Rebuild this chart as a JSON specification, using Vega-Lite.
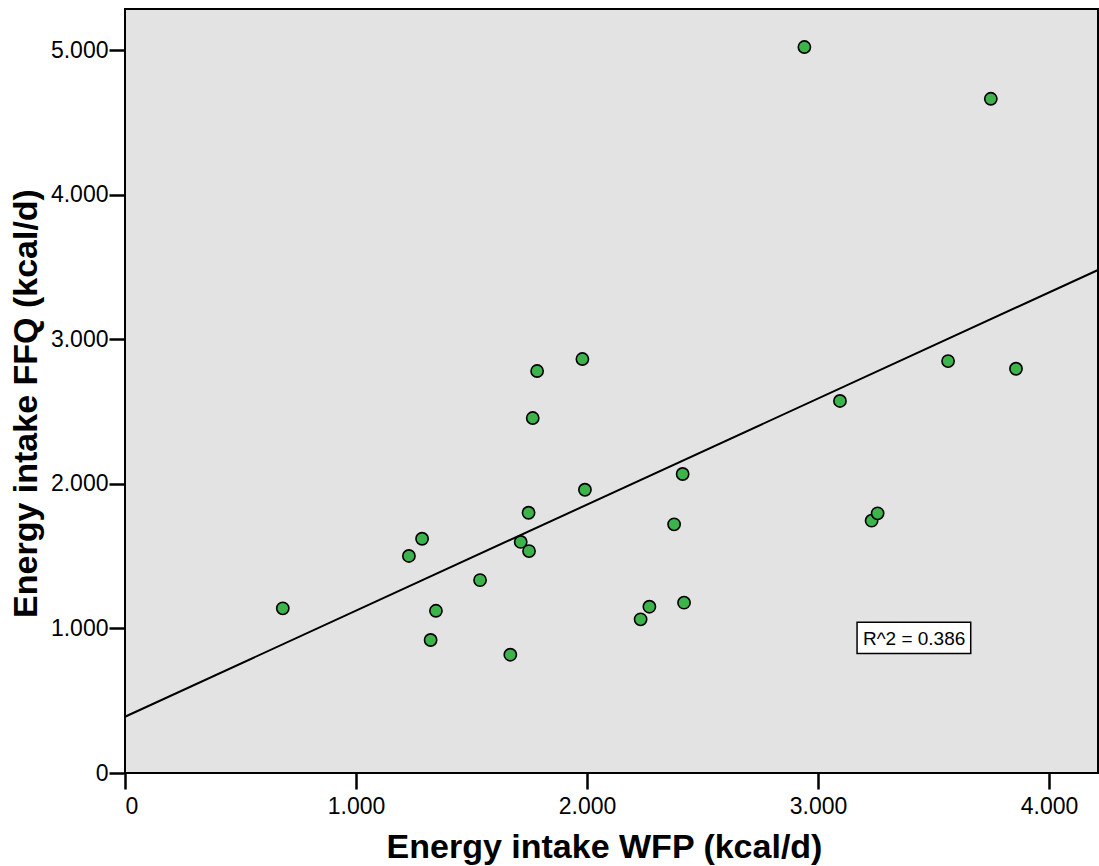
{
  "$schema": "https://vega.github.io/schema/vega-lite/v6.json",
  "width": 973,
  "height": 764,
  "autosize": {"type": "none"},
  "padding": {"left": 125, "top": 9, "right": 1, "bottom": 93},
  "background": "white",
  "config": {
    "font": "Liberation Sans",
    "view": {"fill": "#e3e3e3", "stroke": "black", "strokeWidth": 2},
    "axis": {
      "domain": false,
      "grid": false,
      "tickColor": "black",
      "tickWidth": 2.5,
      "tickSize": 16,
      "labelFont": "Liberation Sans",
      "labelFontSize": 23,
      "labelColor": "black",
      "titleFont": "Liberation Sans",
      "titleFontSize": 34,
      "titleFontWeight": "bold",
      "titleColor": "black"
    }
  },
  "layer": [
    {
      "data": {"values": [
        {"wfp": 683, "ffq": 1139},
        {"wfp": 1229, "ffq": 1501},
        {"wfp": 1286, "ffq": 1620},
        {"wfp": 1323, "ffq": 920},
        {"wfp": 1346, "ffq": 1122},
        {"wfp": 1537, "ffq": 1334},
        {"wfp": 1668, "ffq": 818},
        {"wfp": 1713, "ffq": 1598},
        {"wfp": 1747, "ffq": 1800},
        {"wfp": 1749, "ffq": 1535},
        {"wfp": 1765, "ffq": 2455},
        {"wfp": 1784, "ffq": 2780},
        {"wfp": 1980, "ffq": 2863},
        {"wfp": 1991, "ffq": 1959},
        {"wfp": 2232, "ffq": 1063},
        {"wfp": 2270, "ffq": 1150},
        {"wfp": 2377, "ffq": 1720},
        {"wfp": 2414, "ffq": 2068},
        {"wfp": 2420, "ffq": 1178},
        {"wfp": 2941, "ffq": 5021},
        {"wfp": 3095, "ffq": 2573},
        {"wfp": 3232, "ffq": 1745},
        {"wfp": 3258, "ffq": 1796},
        {"wfp": 3563, "ffq": 2849},
        {"wfp": 3748, "ffq": 4663},
        {"wfp": 3857, "ffq": 2796}
      ]},
      "mark": {"type": "point", "shape": "circle", "filled": true, "fill": "#3cb44b", "stroke": "black", "strokeWidth": 1.6, "size": 150, "opacity": 1},
      "encoding": {
        "x": {
          "field": "wfp", "type": "quantitative",
          "scale": {"domain": [0, 4212], "nice": false, "zero": true},
          "axis": {
            "values": [0, 1000, 2000, 3000, 4000],
            "labelExpr": "replace(format(datum.value, ','), ',', '.')",
            "labelPadding": 6,
            "title": "Energy intake WFP (kcal/d)",
            "titleX": 479,
            "titleY": 84,
            "titleBaseline": "alphabetic",
            "titleAnchor": "middle"
          }
        },
        "y": {
          "field": "ffq", "type": "quantitative",
          "scale": {"domain": [0, 5284], "nice": false, "zero": true},
          "axis": {
            "values": [0, 1000, 2000, 3000, 4000, 5000],
            "labelExpr": "replace(format(datum.value, ','), ',', '.')",
            "labelPadding": 1,
            "title": "Energy intake FFQ (kcal/d)",
            "titleX": -89,
            "titleY": 394,
            "titleAngle": -90,
            "titleBaseline": "alphabetic",
            "titleAlign": "center"
          }
        }
      }
    },
    {
      "data": {"values": [
        {"wfp": 0, "ffq": 389},
        {"wfp": 4212, "ffq": 3479}
      ]},
      "mark": {"type": "line", "color": "black", "strokeWidth": 2},
      "encoding": {
        "x": {"field": "wfp", "type": "quantitative"},
        "y": {"field": "ffq", "type": "quantitative"}
      }
    },
    {
      "data": {"values": [
        {"x1": 3169, "x2": 3661, "y1": 826, "y2": 1042}
      ]},
      "mark": {"type": "rect", "fill": "white", "stroke": "black", "strokeWidth": 1.5},
      "encoding": {
        "x": {"field": "x1", "type": "quantitative"},
        "x2": {"field": "x2"},
        "y": {"field": "y1", "type": "quantitative"},
        "y2": {"field": "y2"}
      }
    },
    {
      "data": {"values": [
        {"wfp": 3416, "ffq": 885, "label": "R^2 = 0.386"}
      ]},
      "mark": {"type": "text", "font": "Liberation Sans", "fontSize": 19, "color": "black", "align": "center", "baseline": "alphabetic"},
      "encoding": {
        "x": {"field": "wfp", "type": "quantitative"},
        "y": {"field": "ffq", "type": "quantitative"},
        "text": {"field": "label"}
      }
    }
  ]
}
